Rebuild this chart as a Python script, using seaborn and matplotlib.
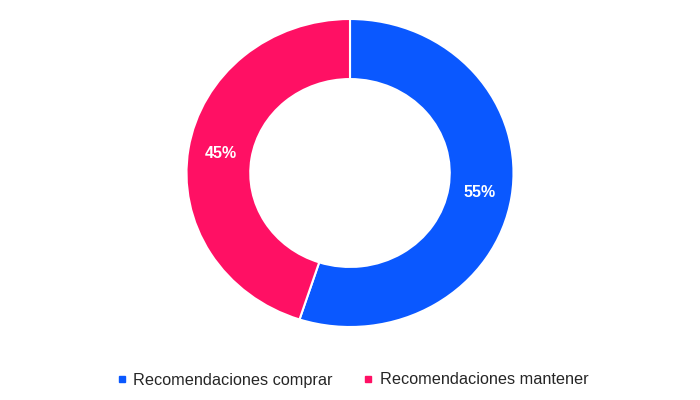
import matplotlib
matplotlib.use("Agg")
import matplotlib.pyplot as plt
import seaborn as sns
from matplotlib.lines import Line2D

categories = ["Recomendaciones comprar", "Recomendaciones mantener"]
values = [55, 45]
colors = ["#0A58FF", "#FF1064"]

sns.set_theme(style="white")
plt.rcParams['font.family'] = ['Liberation Sans', 'DejaVu Sans']

fig = plt.figure(figsize=(7, 4), dpi=100)
ax = fig.add_axes([186.5 / 700, (400 - 327) / 400, 327 / 700, 308 / 400])

wedges, texts, autotexts = ax.pie(
    values, colors=colors, startangle=90, counterclock=False,
    autopct=lambda p: f"{p:.0f}%", pctdistance=0.8,
    wedgeprops=dict(width=0.39, edgecolor="white", linewidth=1.5),
    textprops=dict(color="white", fontsize=11.5, fontweight="bold"),
)
ax.set_aspect("auto")
ax.set_xlim(-1, 1)
ax.set_ylim(-1, 1)
ax.axis("off")

handles = [Line2D([0], [0], marker="s", linestyle="", markersize=5,
                  markerfacecolor=c, markeredgecolor=c) for c in colors]
fig.legend(handles, categories, loc="center", bbox_to_anchor=(353 / 700, 1 - 380 / 400),
           ncol=2, frameon=False, fontsize=11.7, handlelength=0.5, handletextpad=0.45,
           columnspacing=1.95)

fig.savefig("out.png", dpi=100, facecolor="white")
